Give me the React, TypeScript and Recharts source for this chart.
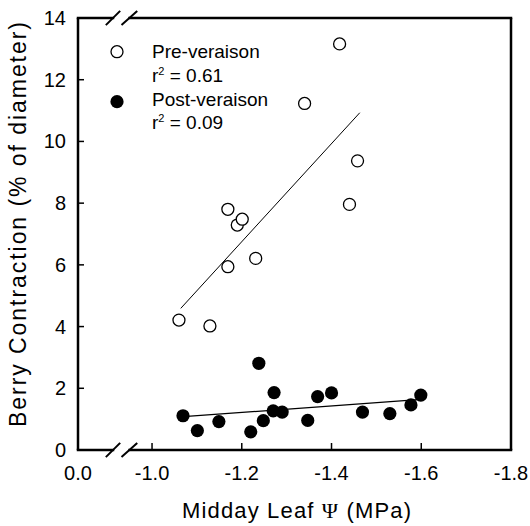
import { ScatterChart, Scatter, XAxis, YAxis, ReferenceLine, Legend } from 'recharts';

// x values are leaf water potential (MPa); the axis is broken, its left edge stands for 0.0
const X_START = -0.835;
const X_END = -1.8;
const X_TICKS = [-0.835, -1.0, -1.2, -1.4, -1.6, -1.8];
const X_LABELS = ['0.0', '-1.0', '-1.2', '-1.4', '-1.6', '-1.8'];
const Y_TICKS = [0, 2, 4, 6, 8, 10, 12, 14];

const PRE_X = [-1.06, -1.129, -1.169, -1.169, -1.19, -1.201, -1.231, -1.34, -1.418, -1.458, -1.44];
const PRE_Y = [4.21, 4.02, 5.94, 7.8, 7.29, 7.48, 6.21, 11.23, 13.16, 9.37, 7.96];

const POST_X = [-1.069, -1.101, -1.149, -1.22, -1.238, -1.248, -1.272, -1.27, -1.29, -1.347, -1.369, -1.4, -1.469, -1.53, -1.577, -1.599];
const POST_Y = [1.11, 0.63, 0.92, 0.59, 2.81, 0.95, 1.86, 1.27, 1.23, 0.96, 1.73, 1.85, 1.23, 1.18, 1.46, 1.78];

// fitted regression lines (end points)
const PRE_FIT_X = [-1.064, -1.463];
const PRE_FIT_Y = [4.59, 10.93];
const POST_FIT_X = [-1.07, -1.6];
const POST_FIT_Y = [1.08, 1.64];

const SERIES = ['Pre-veraison', 'Post-veraison'];
const R2 = ['0.61', '0.09'];

// axis break: gap in the frame line and the two slashes
const BREAK_GAP = [-0.913, -0.95];
const BREAK_SLASHES = [[-0.897, -0.929], [-0.932, -0.967]];
const SLASH_HALF = 0.23;

const FONT = '"Liberation Sans", Arial, Helvetica, sans-serif';

const zip = (xs: number[], ys: number[]) => xs.map((x, i) => ({ x, y: ys[i] }));
const preData = zip(PRE_X, PRE_Y);
const postData = zip(POST_X, POST_Y);
const preFit = zip(PRE_FIT_X, PRE_FIT_Y);
const postFit = zip(POST_FIT_X, POST_FIT_Y);

const labelFor = (v: number) => {
  const i = X_TICKS.findIndex((t) => Math.abs(t - v) < 1e-6);
  return i >= 0 ? X_LABELS[i] : String(v);
};
const innerX = (v: number) => Math.abs(v - X_START) > 1e-6 && Math.abs(v - X_END) > 1e-6;
const innerY = (v: number) => v !== 0 && v !== 14;

const BottomTick = (p: any) => (
  <g>
    {innerX(p.payload.value) && <line x1={p.x} y1={p.y} x2={p.x} y2={p.y - 7} stroke="#000" strokeWidth={1.5} />}
    <text x={p.x} y={p.y + 30} textAnchor="middle" fontSize={20} fontFamily={FONT} fill="#000">
      {labelFor(p.payload.value)}
    </text>
  </g>
);

const TopTick = (p: any) =>
  innerX(p.payload.value) ? <line x1={p.x} y1={p.y} x2={p.x} y2={p.y + 7} stroke="#000" strokeWidth={1.5} /> : <g />;

const LeftTick = (p: any) => (
  <g>
    {innerY(p.payload.value) && <line x1={p.x} y1={p.y} x2={p.x + 6} y2={p.y} stroke="#000" strokeWidth={1.5} />}
    <text x={p.x - 12} y={p.y + 7} textAnchor="end" fontSize={20} fontFamily={FONT} fill="#000">
      {p.payload.value}
    </text>
  </g>
);

const RightTick = (p: any) =>
  innerY(p.payload.value) ? <line x1={p.x} y1={p.y} x2={p.x - 6} y2={p.y} stroke="#000" strokeWidth={1.5} /> : <g />;

const OpenDot = (p: any) => <circle cx={p.cx} cy={p.cy} r={6} fill="#fff" stroke="#000" strokeWidth={1.3} />;
const FilledDot = (p: any) => <circle cx={p.cx} cy={p.cy} r={6.6} fill="#000" />;
const NoDot = () => <g />;

const LegendBox = () => (
  <svg width={300} height={140} style={{ display: 'block' }}>
    <circle cx={117} cy={51.7} r={6} fill="#fff" stroke="#000" strokeWidth={1.3} />
    <circle cx={117} cy={101.7} r={6.6} fill="#000" />
    {[0, 1].map((i) => (
      <g key={i} fontFamily={FONT} fontSize={19} fill="#000">
        <text x={152} y={i === 0 ? 58 : 106}>{SERIES[i]}</text>
        <text x={152} y={i === 0 ? 82 : 128.5}>
          r<tspan dy={-7} fontSize={11}>2</tspan>
          <tspan dy={7}> = {R2[i]}</tspan>
        </text>
      </g>
    ))}
  </svg>
);

const frameSegments = (y: number) => [
  [X_START, BREAK_GAP[0]],
  [BREAK_GAP[1], X_END],
].map(([a, b], i) => (
  <ReferenceLine
    key={`f${y}-${i}`}
    segment={[{ x: a, y }, { x: b, y }]}
    stroke="#000"
    strokeWidth={2.5}
    strokeLinecap="square"
    ifOverflow="visible"
  />
));

const slashes = (y: number) =>
  BREAK_SLASHES.map(([a, b], i) => (
    <ReferenceLine
      key={`s${y}-${i}`}
      segment={[{ x: a, y: y - SLASH_HALF }, { x: b, y: y + SLASH_HALF }]}
      stroke="#000"
      strokeWidth={2}
      ifOverflow="visible"
    />
  ));

export default function App() {
  return (
    <div style={{ position: 'absolute', left: 0, top: 0, width: 530, height: 526, background: '#fff' }}>
      <ScatterChart width={530} height={526} margin={{ top: 0, right: 0, bottom: 0, left: 0 }}>
        <XAxis
          type="number"
          dataKey="x"
          domain={[X_END, X_START]}
          reversed
          ticks={X_TICKS}
          interval={0}
          height={76}
          axisLine={false}
          tickLine={false}
          tickSize={0}
          tickMargin={0}
          tick={BottomTick}
          label={{
            content: () => (
              <text x={182} y={518} fontSize={22} fontFamily={FONT} fill="#000" textLength={229} lengthAdjust="spacing">
                Midday Leaf <tspan fontFamily='"Liberation Serif", "DejaVu Serif", serif'>Ψ</tspan> (MPa)
              </text>
            ),
          }}
        />
        <XAxis
          xAxisId="top"
          orientation="top"
          type="number"
          dataKey="x"
          domain={[X_END, X_START]}
          reversed
          ticks={X_TICKS}
          interval={0}
          height={18}
          axisLine={false}
          tickLine={false}
          tickSize={0}
          tickMargin={0}
          tick={TopTick}
        />
        <YAxis
          type="number"
          dataKey="y"
          domain={[0, 14]}
          ticks={Y_TICKS}
          interval={0}
          width={78}
          axisLine={{ stroke: '#000', strokeWidth: 2.5 }}
          tickLine={false}
          tickSize={0}
          tickMargin={0}
          tick={LeftTick}
          label={{
            content: () => (
              <text
                x={26}
                y={427}
                transform="rotate(-90 26 427)"
                fontSize={23}
                fontFamily={FONT}
                fill="#000"
                textLength={405}
                lengthAdjust="spacing"
              >
                Berry Contraction (% of diameter)
              </text>
            ),
          }}
        />
        <YAxis
          yAxisId="right"
          orientation="right"
          type="number"
          domain={[0, 14]}
          ticks={Y_TICKS}
          interval={0}
          width={19}
          axisLine={{ stroke: '#000', strokeWidth: 2.5 }}
          tickLine={false}
          tickSize={0}
          tickMargin={0}
          tick={RightTick}
        />
        {frameSegments(0)}
        {frameSegments(14)}
        {slashes(0)}
        {slashes(14)}
        <Scatter data={preFit} line={{ stroke: '#000', strokeWidth: 1 }} shape={NoDot} legendType="none" isAnimationActive={false} />
        <Scatter data={postFit} line={{ stroke: '#000', strokeWidth: 1.2 }} shape={NoDot} legendType="none" isAnimationActive={false} />
        <Scatter name={SERIES[0]} data={preData} shape={OpenDot} isAnimationActive={false} />
        <Scatter name={SERIES[1]} data={postData} shape={FilledDot} isAnimationActive={false} />
        <Legend
          layout="vertical"
          align="center"
          verticalAlign="middle"
          content={LegendBox}
          wrapperStyle={{ position: 'absolute', left: 0, top: 0, width: 300, height: 140, pointerEvents: 'none' }}
        />
      </ScatterChart>
    </div>
  );
}
